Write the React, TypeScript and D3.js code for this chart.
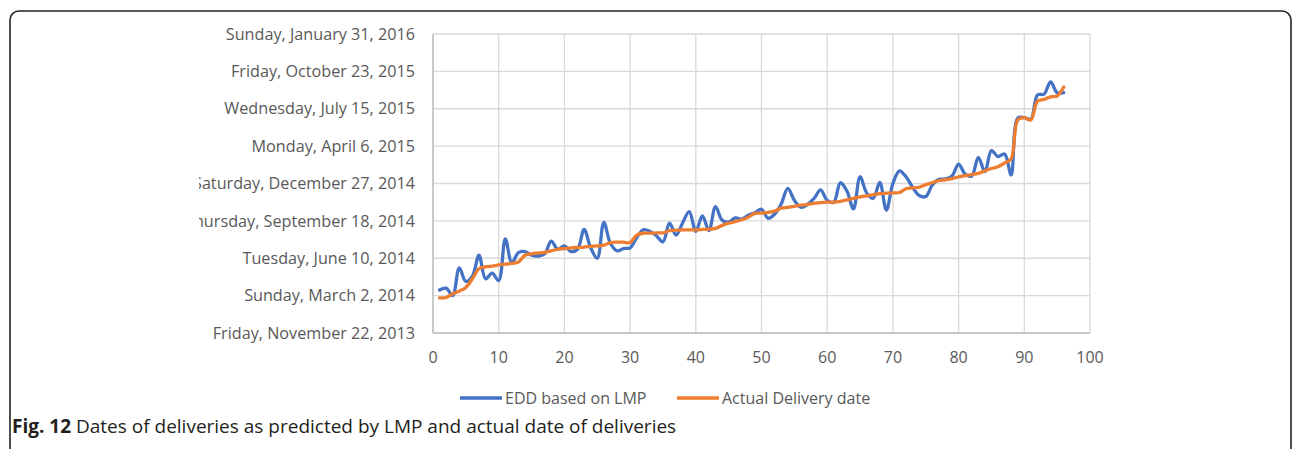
import React, { useEffect, useRef } from "react";
import * as d3 from "d3";

// Excel date serials (days since 1899-12-30), one value per delivery 1..96
const eddLmp = [
  41715, 41720, 41700, 41774, 41738, 41752, 41808, 41745, 41760, 41740,
  41852, 41788, 41815, 41818, 41808, 41806, 41812, 41846, 41824, 41833,
  41818, 41824, 41877, 41828, 41800, 41896, 41840, 41820, 41826, 41828,
  41855, 41876, 41872, 41860, 41844, 41894, 41862, 41895, 41925, 41872,
  41913, 41874, 41938, 41902, 41897, 41908, 41905, 41915, 41922, 41931,
  41907, 41918, 41945, 41987, 41955, 41936, 41944, 41960, 41983, 41955,
  41950, 42002, 41980, 41932, 42018, 41975, 41960, 42003, 41929, 42000,
  42034, 42018, 41990, 41968, 41965, 41996, 42011, 42012, 42020, 42052,
  42025, 42020, 42070, 42032, 42088, 42072, 42079, 42023, 42175, 42176,
  42172, 42237, 42239, 42272, 42243, 42243
];

const actualDelivery = [
  41694, 41695, 41705, 41712, 41722, 41745, 41772, 41777, 41779, 41782,
  41784, 41786, 41790, 41808, 41812, 41814, 41816, 41820, 41824, 41826,
  41828, 41829, 41830, 41832, 41833, 41835, 41842, 41843, 41843, 41842,
  41862, 41867, 41867, 41868, 41868, 41874, 41875, 41876, 41876, 41876,
  41877, 41878, 41880, 41888, 41894, 41898, 41903, 41910, 41920, 41921,
  41923, 41926, 41934, 41936, 41939, 41942, 41944, 41947, 41949, 41950,
  41950, 41952, 41956, 41960, 41964, 41967, 41970, 41973, 41974, 41975,
  41976, 41986, 41988, 41990, 41997, 42002, 42008, 42010, 42013, 42018,
  42021, 42024, 42027, 42034, 42040, 42045, 42055, 42066, 42170, 42176,
  42170, 42220, 42225, 42232, 42234, 42258
];

const seriesNames = ["EDD based on LMP", "Actual Delivery date"];
const seriesColors = ["#4472C4", "#ED7D31"];
const yTicks = [41600, 41700, 41800, 41900, 42000, 42100, 42200, 42300, 42400];
const xTicks = [0, 10, 20, 30, 40, 50, 60, 70, 80, 90, 100];

const serialToDate = s => new Date(Date.UTC(1899, 11, 30) + s * 86400000);
const fmtDate = d3.utcFormat("%A, %B %-d, %Y");

export default function App() {
  const ref = useRef();

  useEffect(() => {
    const width = 1292;
    const height = 449;
    const svg = d3.select(ref.current).attr("width", width).attr("height", height);
    svg.selectAll("*").remove();

    const font = "'Open Sans', sans-serif";

    // outer rounded frame
    svg.append("rect")
      .attr("x", 10).attr("y", 11)
      .attr("width", 1281).attr("height", 480)
      .attr("rx", 9)
      .attr("fill", "none")
      .attr("stroke", "#222")
      .attr("stroke-width", 1.6);

    // the chart object is cropped on its left side
    svg.append("clipPath").attr("id", "chartclip")
      .append("rect").attr("x", 199).attr("y", 0).attr("width", 1100).attr("height", 449);

    const g = svg.append("g").attr("clip-path", "url(#chartclip)");

    const x = d3.scaleLinear().domain([0, 100]).range([433, 1090]);
    const y = d3.scaleLinear().domain([41600, 42400]).range([333, 34]);

    // gridlines
    g.append("g").selectAll("line").data(yTicks).join("line")
      .attr("x1", x(0)).attr("x2", x(100))
      .attr("y1", d => y(d)).attr("y2", d => y(d))
      .attr("stroke", "#d9d9d9").attr("stroke-width", 1.3);
    g.append("g").selectAll("line").data(xTicks).join("line")
      .attr("x1", d => x(d)).attr("x2", d => x(d))
      .attr("y1", y(41600)).attr("y2", y(42400))
      .attr("stroke", "#d9d9d9").attr("stroke-width", 1.3);

    // axis lines
    g.append("line")
      .attr("x1", x(0)).attr("x2", x(0)).attr("y1", y(42400)).attr("y2", y(41600))
      .attr("stroke", "#bfbfbf").attr("stroke-width", 1.5);
    g.append("line")
      .attr("x1", x(0)).attr("x2", x(100)).attr("y1", y(41600)).attr("y2", y(41600))
      .attr("stroke", "#bfbfbf").attr("stroke-width", 1.5);

    // y labels
    g.append("g")
      .attr("font-family", font).attr("font-size", 16.2).attr("fill", "#595959")
      .attr("text-anchor", "end")
      .selectAll("text").data(yTicks).join("text")
      .attr("x", 415).attr("y", d => y(d)).attr("dy", "0.35em")
      .text(d => fmtDate(serialToDate(d)));

    // x labels
    g.append("g")
      .attr("font-family", font).attr("font-size", 16).attr("fill", "#595959")
      .attr("text-anchor", "middle")
      .selectAll("text").data(xTicks).join("text")
      .attr("x", d => x(d)).attr("y", 357).attr("dy", "0.35em")
      .text(d => d);

    const line = d3.line()
      .x((d, i) => x(i + 1))
      .y(d => y(d))
      .curve(d3.curveCatmullRom.alpha(0.5));

    [eddLmp, actualDelivery].forEach((s, k) => {
      g.append("path")
        .attr("d", line(s))
        .attr("fill", "none")
        .attr("stroke", seriesColors[k])
        .attr("stroke-width", 3.3)
        .attr("stroke-linejoin", "round")
        .attr("stroke-linecap", "round");
    });

    // legend
    const legendX = [460, 677];
    const leg = g.append("g").attr("font-family", font).attr("font-size", 16).attr("fill", "#595959");
    seriesNames.forEach((name, k) => {
      leg.append("line")
        .attr("x1", legendX[k]).attr("x2", legendX[k] + 42)
        .attr("y1", 398).attr("y2", 398)
        .attr("stroke", seriesColors[k]).attr("stroke-width", 3.3);
      leg.append("text")
        .attr("x", legendX[k] + 45).attr("y", 398).attr("dy", "0.35em")
        .text(name);
    });

    // caption
    const cap = svg.append("text")
      .attr("x", 12).attr("y", 426).attr("dy", "0.35em")
      .attr("font-family", font).attr("font-size", 19).attr("fill", "#231f20");
    cap.append("tspan").attr("font-weight", "bold").text("Fig. 12");
    cap.append("tspan").text(" Dates of deliveries as predicted by LMP and actual date of deliveries");
  }, []);

  return (
    <svg ref={ref} style={{ position: "absolute", left: 0, top: 0, display: "block" }}></svg>
  );
}
